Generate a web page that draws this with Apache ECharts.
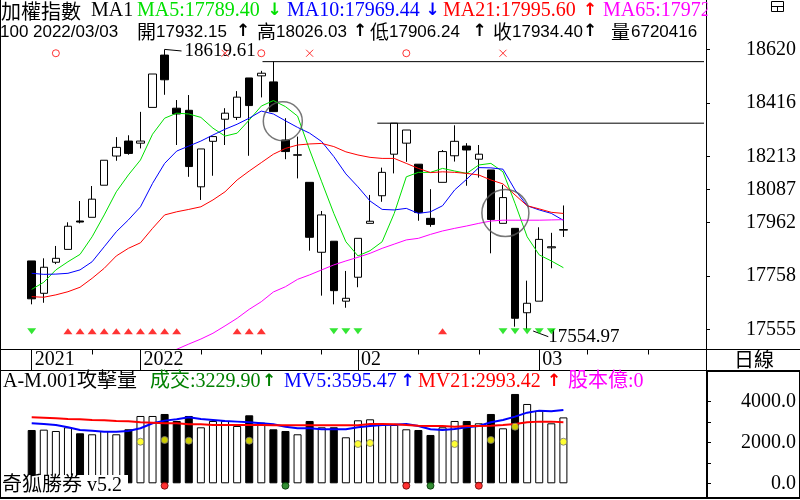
<!DOCTYPE html>
<html><head><meta charset="utf-8">
<script src="https://cdn.jsdelivr.net/npm/echarts@6/dist/echarts.min.js"></script>
<style>html,body{margin:0;padding:0;background:#fff}#c{width:800px;height:500px}</style>
</head><body><div id="c"></div>
<script>
// ---------- data ----------
const dates = ['2021/12/20','2021/12/21','2021/12/22','2021/12/23','2021/12/24','2021/12/27','2021/12/28','2021/12/29','2021/12/30',
'2022/01/03','2022/01/04','2022/01/05','2022/01/06','2022/01/07','2022/01/10','2022/01/11','2022/01/12','2022/01/13','2022/01/14',
'2022/01/17','2022/01/18','2022/01/19','2022/01/20','2022/01/21','2022/01/24','2022/01/25','2022/01/26',
'2022/02/07','2022/02/08','2022/02/09','2022/02/10','2022/02/11','2022/02/14','2022/02/15','2022/02/16','2022/02/17','2022/02/18',
'2022/02/21','2022/02/22','2022/02/23','2022/02/24','2022/02/25','2022/03/01','2022/03/02','2022/03/03'];
const futureDates = ['2022/03/04','2022/03/07','2022/03/08','2022/03/09','2022/03/10','2022/03/11','2022/03/14','2022/03/15','2022/03/16','2022/03/17','2022/03/18'];
const opens  = [17815,17692,17810,17859,17967,17981,18103,18214,18271,18263,18399,18598,18396,18388,18097,18270,18354,18361,18511,18519,18496,18275,18217,18114,17848,17890,17662,17753,17958,18063,18221,18263,18183,17977,18114,18215,18252,18202,18161,17958,17939,17618,17662,17865,17932.15];
const closes = [17671,17791,17825,17947,17963,18050,18198,18247,18224,18271,18526,18504,18374,18174,18241,18288,18377,18438,18406,18529,18383,18231,18219,17905,17990,17702,17673,17901,17966,18152,18339,18313,17999,17954,18231,18270,18237,18221,17973,18056,17597,17654,17897,17869,17934.40];
const lows   = [17650,17656,17803,17859,17958,17981,18103,18196,18219,18243,18399,18447,18256,18135,18047,18139,18256,18351,18215,18437,18383,18202,18129,17854,17683,17650,17637,17715,17958,18040,18148,18192,17968,17945,18114,18193,18101,18132,17844,17958,17565,17554.97,17662,17787,17906.24];
const highs  = [17815,17825,17872,17962,18043,18100,18198,18286,18293,18382,18526,18619.61,18427,18446,18241,18288,18396,18461,18511,18538,18573,18358,18288,18114,18005,17890,17777,17901,18066,18170,18339,18313,18183,18088,18237,18331,18263,18256,18161,18104,17939,17740,17943,17922,18026.03];
const ma5  = [17707,17734,17781,17812,17840,17907,17990,18078,18142,18199,18297,18358,18377,18374,18361,18320,18290,18301,18351,18404,18425,18402,18366,18237,18116,17996,17888,17834,17854,17888,17996,18135,18152,18152,18167,18157,18148,18180,18186,18154,18034,17907,17838,17815,17789.40];
const ma10 = [17768,17764,17765,17768,17781,17812,17869,17926,17971,18021,18110,18186,18233,18252,18271,18294,18316,18335,18358,18385,18374,18348,18323,18301,18269,18212,18146,18097,18043,18011,18009,18015,17996,18002,18025,18085,18126,18170,18169,18164,18085,18025,18009,17996,17969.44];
const ma21 = [17679,17677,17686,17698,17715,17749,17787,17834,17863,17884,17939,17990,18002,18011,18021,18047,18078,18123,18157,18189,18221,18243,18256,18260,18262,18250,18230,18218,18209,18205,18205,18186,18167,18151,18154,18152,18148,18142,18123,18108,18066,18025,18013,18000,17995.60];
const ma65 = ['-','-','-','-','-','-','-','-','-','-',17438,17461,17479,17499,17518,17540,17568,17597,17631,17660,17697,17717,17745,17762,17781,17800,17815,17829,17844,17863,17879,17895,17901,17916,17929,17939,17948,17958,17967,17970,17970,17970,17970,17971,17972];
const volumes = [2613,2630,2564,2745,2451,2402,2564,2402,2647,3300,3300,3398,3055,3300,2745,3055,3055,2810,3333,2973,2647,2564,2402,3055,2745,2745,2255,3088,3137,2859,2859,2647,2613,2369,2745,3055,3055,2941,3398,2696,4379,3888,3560,2941,3229.90];
const mv5  = [2941,2908,2858,2745,2613,2580,2531,2531,2564,2696,2941,3072,3137,3235,3153,3104,3055,3023,2990,2941,2892,2777,2696,2696,2647,2647,2647,2745,2810,2858,2875,2908,2810,2647,2613,2663,2745,2810,2990,3104,3268,3463,3562,3529,3595.47];
const mv21 = [3235,3219,3186,3153,3137,3104,3088,3055,3039,2990,2973,2941,2941,2892,2892,2858,2858,2858,2858,2858,2842,2842,2842,2842,2842,2842,2842,2842,2908,2908,2892,2858,2826,2810,2810,2777,2810,2810,2826,2858,2908,2990,3023,3023,2993.42];
const yellowDots = [[9,2039],[11,2123],[13,2088],[18,2088],[27,1926],[28,1976],[35,1926],[38,2123],[40,2775],[44,2039]];
const redDotIdx = [11,31,37];
const greenDotIdx = [21,33];
const dotBaseValue = -118;
const buyTriIdx = [3,4,5,6,7,8,9,10,11,12,17,18,19,34];
const sellTriIdx = [0,25,26,27,39,40,41,42,43];
const triValue = 17548;
const ringIdx = [2,19,31];
const crossIdx = [16,23,39];
const markTopValue = 18605;
const crossCircles = [[20.78,18346.5,39],[39.2,17997.4,47]];
const resistLines = [[19.1,18573],[28.6,18339]];
const yTicks = [17555,17758,17962,18087,18213,18416,18620];
const volTicks = [0,1000,2000,3000,4000];
const volLabels = [0,2000,4000];

// ---------- derived ----------
const axisDates = dates.concat(futureDates);
const N = axisDates.length;
function dayNum(s){return Math.round(Date.UTC(+s.slice(0,4), +s.slice(5,7)-1, +s.slice(8,10))/864e5);}
function weekKey(s){const d=new Date(dayNum(s)*864e5);return dayNum(s)-((d.getUTCDay()+6)%7);}
const weekTicks=[], labelMap={};
axisDates.forEach((s,i)=>{
  if(i===0||weekKey(s)!==weekKey(axisDates[i-1])) weekTicks.push(i);
  if(i===0){labelMap[i]=s.slice(0,4);}
  else if(s.slice(0,4)!==axisDates[i-1].slice(0,4)){labelMap[i]=s.slice(0,4);}
  else if(s.slice(5,7)!==axisDates[i-1].slice(5,7)){labelMap[i]=s.slice(5,7);}
});
const labelTicks = Object.keys(labelMap).map(Number);
const candleData = opens.map((o,i)=>[o,closes[i],lows[i],highs[i]]);
const up = i => closes[i] > opens[i];
const volData = volumes.map((v,i)=>({value:v,itemStyle:{color:up(i)?'#fff':'#000',borderColor:'#000',borderWidth:1}}));
const hiIdx = highs.indexOf(Math.max(...highs));
const loIdx = lows.indexOf(Math.min(...lows));
const maxV = Math.max(...highs), minV = Math.min(...lows);

const L = 25.66, W = 676.7, OFF = 3.64;
const SERIF = '"Liberation Serif","Noto Sans CJK TC",serif';
const SANS = '"Liberation Sans","Noto Sans CJK TC",sans-serif';
const CJK = '"Noto Sans CJK TC",sans-serif';
const ARROW = 'bold 17px "DejaVu Sans",sans-serif';
const R2 = '17px '+SANS;

function T(text,x,y,color,font,align){
  return {type:'text',x:x,y:y,z:100,style:{text:text,fill:color,font:font,
    textAlign:align||'left',textVerticalAlign:'middle',align:align||'left',verticalAlign:'middle'}};
}
function Ln(x1,y1,x2,y2,w){return {type:'line',z:90,shape:{x1,y1,x2,y2},style:{stroke:'#000',lineWidth:w||1}};}

const graphics = [
  // frame
  Ln(0.5,0,0.5,498), Ln(0,349.5,800,349.5), Ln(0,370.5,706,370.5), Ln(0,498,800,498,2),
  Ln(706.5,0,706.5,370.5),
  {type:'rect',z:90,shape:{x:707,y:371,width:93,height:127},style:{fill:'none',stroke:'#000',lineWidth:2}},
  // cover for clipped header
  {type:'rect',z:101,shape:{x:707.5,y:0,width:92.5,height:38},style:{fill:'#fff'}},
  // icon
  {type:'rect',z:102,shape:{x:771.5,y:1.5,width:12,height:10},style:{fill:'none',stroke:'#000',lineWidth:1}},
  {type:'line',z:102,shape:{x1:771.5,y1:6.5,x2:783.5,y2:6.5},style:{stroke:'#000'}},
  {type:'line',z:102,shape:{x1:777.5,y1:6.5,x2:777.5,y2:11.5},style:{stroke:'#000'}},
  // header row 1
  T('加權指數',1,11,'#000','20px '+CJK),
  T('MA1',91,11,'#000','20px '+SERIF),
  T('MA5:17789.40',137,11,'#00e000','20px '+SERIF),
  T('↓',274.5,11,'#00e000',ARROW,'center'),
  T('MA10:17969.44',287,11,'#0000ff','20px '+SERIF),
  T('↓',432.5,11,'#0000ff',ARROW,'center'),
  T('MA21:17995.60',443,11,'#ff0000','20px '+SERIF),
  T('↑',590,11,'#ff0000',ARROW,'center'),
  T('MA65:17972',603,11,'#ff00ff','20px '+SERIF),
  // header row 2
  T('100',0,32,'#000',R2),
  T('2022/03/03',33,32,'#000',R2),
  T('開',137,32,'#000','19px '+CJK),
  T('17932.15',156,32,'#000',R2),
  T('↑',243,32,'#000',ARROW,'center'),
  T('高',257,32,'#000','19px '+CJK),
  T('18026.03',276,32,'#000',R2),
  T('↑',360,32,'#000',ARROW,'center'),
  T('低',370,32,'#000','19px '+CJK),
  T('17906.24',389,32,'#000',R2),
  T('↑',479.5,32,'#000',ARROW,'center'),
  T('收',493,32,'#000','19px '+CJK),
  T('17934.40',512,32,'#000',R2),
  T('↑',590,32,'#000',ARROW,'center'),
  T('量',611,32,'#000','19px '+CJK),
  T('6720416',631,32,'#000',R2),
  // date row
  T('日線',754,359,'#000','20px '+CJK,'center'),
  // volume header
  T('A-M.001攻擊量',3,381.5,'#000','20px '+SERIF),
  T('成交:3229.90',150,381.5,'#008000','20px '+SERIF),
  T('↑',269,381.5,'#008000',ARROW,'center'),
  T('MV5:3595.47',284,381.5,'#0000ff','20px '+SERIF),
  T('↑',407.5,381.5,'#0000ff',ARROW,'center'),
  T('MV21:2993.42',418,381.5,'#ff0000','20px '+SERIF),
  T('↑',554,381.5,'#ff0000',ARROW,'center'),
  T('股本億:0',568,381.5,'#ff00ff','20px '+SERIF),
  // footer
  {type:'rect',z:99,shape:{x:1,y:475,width:127,height:22},style:{fill:'#fff'}},
  T('奇狐勝券 v5.2',2,486,'#000','20px '+SERIF)
];

const chart = echarts.init(document.getElementById('c'), null, {renderer:'canvas'});
chart.setOption({
  animation:false,
  backgroundColor:'#fff',
  grid:[
    {left:L,width:W,top:0,height:349.5},
    {left:L,width:W,top:370.5,height:127.5},
    {left:L,width:W,top:349.5,height:21}
  ],
  xAxis:[
    {type:'category',gridIndex:0,data:axisDates,show:false,axisLine:{onZero:false}},
    {type:'value',gridIndex:0,min:-0.5,max:N-0.5,show:false,axisLine:{onZero:false}},
    {type:'category',gridIndex:1,data:axisDates,show:false,axisLine:{onZero:false}},
    {type:'value',gridIndex:2,min:-0.5,max:N-0.5,position:'top',
      axisLine:{show:false,onZero:false},splitLine:{show:false},
      axisTick:{show:true,customValues:weekTicks,inside:true,length:5,lineStyle:{color:'#000',width:1}},
      axisLabel:{show:true,customValues:labelTicks,inside:true,margin:10,align:'left',verticalAlign:'middle',
        padding:[0,0,0,3],formatter:v=>labelMap[Math.round(v)]||'',color:'#000',fontSize:20,fontFamily:SERIF}},
    {type:'value',gridIndex:2,min:-0.5,max:N-0.5,position:'bottom',
      axisLine:{show:false,onZero:false},splitLine:{show:false},axisLabel:{show:false},
      axisTick:{show:true,customValues:labelTicks,inside:true,length:21,lineStyle:{color:'#000',width:1}}}
  ],
  yAxis:[
    {type:'value',gridIndex:0,min:17478.2,max:18807.5,position:'right',offset:OFF,
      axisLine:{show:false,onZero:false},splitLine:{show:false},
      axisTick:{show:true,customValues:yTicks,length:4,lineStyle:{color:'#000'}},
      axisLabel:{customValues:yTicks,margin:90,align:'right',color:'#000',fontSize:20,fontFamily:SERIF,
        padding:[0,0,4,0],formatter:v=>String(Math.round(v))}},
    {type:'value',gridIndex:1,min:-720.6,max:5529,position:'right',offset:OFF,
      axisLine:{show:false,onZero:false},splitLine:{show:false},
      axisTick:{show:true,customValues:volTicks,length:5,lineStyle:{color:'#000'}},
      axisLabel:{customValues:volLabels,margin:90,align:'right',color:'#000',fontSize:20,fontFamily:SERIF,formatter:v=>v.toFixed(1)}},
    {type:'value',gridIndex:2,show:false,axisLine:{onZero:false}}
  ],
  series:[
    {type:'candlestick',xAxisIndex:0,yAxisIndex:0,data:candleData,barWidth:8,
      itemStyle:{color:'#fff',color0:'#000',borderColor:'#000',borderColor0:'#000',borderColorDoji:'#000',borderWidth:1}},
    {type:'line',name:'MA5',xAxisIndex:0,yAxisIndex:0,data:ma5,symbol:'none',lineStyle:{color:'#00e000',width:1}},
    {type:'line',name:'MA10',xAxisIndex:0,yAxisIndex:0,data:ma10,symbol:'none',lineStyle:{color:'#0000ff',width:1}},
    {type:'line',name:'MA21',xAxisIndex:0,yAxisIndex:0,data:ma21,symbol:'none',lineStyle:{color:'#ff0000',width:1}},
    {type:'line',name:'MA65',xAxisIndex:0,yAxisIndex:0,data:ma65,symbol:'none',lineStyle:{color:'#ff00ff',width:1}},
    {type:'scatter',xAxisIndex:0,yAxisIndex:0,data:buyTriIdx.map(i=>[i,triValue]),symbol:'triangle',symbolSize:[9,6],
      itemStyle:{color:'#ff0000'},z:5},
    {type:'scatter',xAxisIndex:0,yAxisIndex:0,data:sellTriIdx.map(i=>[i,triValue]),symbol:'path://M0,0L10,0L5,6Z',symbolSize:[9,6],
      itemStyle:{color:'#00e000'},z:5},
    {type:'scatter',xAxisIndex:0,yAxisIndex:0,data:ringIdx.map(i=>[i,markTopValue]),symbol:'circle',symbolSize:7,
      itemStyle:{color:'rgba(0,0,0,0)',borderColor:'#ff0000',borderWidth:1},z:6},
    {type:'scatter',xAxisIndex:0,yAxisIndex:0,data:crossIdx.map(i=>[i,markTopValue]),symbol:'path://M0,0L10,10M10,0L0,10',symbolSize:7,
      itemStyle:{color:'rgba(0,0,0,0)',borderColor:'#ff0000',borderWidth:1},z:6},
    ...resistLines.map(r=>({type:'line',xAxisIndex:1,yAxisIndex:0,clip:false,symbol:'none',
      data:[[r[0],r[1]],[N-0.2,r[1]]],lineStyle:{color:'#000',width:1}})),
    {type:'scatter',xAxisIndex:1,yAxisIndex:0,data:crossCircles.map(c=>[c[0],c[1]]),
      symbol:'circle',symbolSize:(v,p)=>crossCircles[p.dataIndex][2],
      itemStyle:{color:'rgba(0,0,0,0)',borderColor:'#555',borderWidth:1.5},z:7},
    {type:'line',xAxisIndex:1,yAxisIndex:0,symbol:'none',clip:false,
      data:[[hiIdx,maxV],[hiIdx+0.15,maxV+6],[hiIdx+1.4,maxV-6]],lineStyle:{color:'#000',width:1},
      endLabel:{show:true,formatter:maxV.toFixed(2),color:'#000',fontSize:19,fontFamily:SERIF,distance:3}},
    {type:'line',xAxisIndex:1,yAxisIndex:0,symbol:'none',clip:false,
      data:[[loIdx+0.5,minV-6.5],[loIdx+1.75,minV-28]],lineStyle:{color:'#000',width:1},
      endLabel:{show:true,formatter:minV.toFixed(2),color:'#000',fontSize:19,fontFamily:SERIF,distance:0}},
    // volume panel
    {type:'bar',xAxisIndex:2,yAxisIndex:1,data:volData,barWidth:8},
    {type:'line',xAxisIndex:2,yAxisIndex:1,data:mv5,symbol:'none',lineStyle:{color:'#0000ff',width:2}},
    {type:'line',xAxisIndex:2,yAxisIndex:1,data:mv21,symbol:'none',lineStyle:{color:'#ff0000',width:2}},
    {type:'scatter',xAxisIndex:2,yAxisIndex:1,data:yellowDots,symbol:'circle',symbolSize:7,
      itemStyle:{color:'#ffff00',borderColor:'#777',borderWidth:1},z:8},
    {type:'scatter',xAxisIndex:2,yAxisIndex:1,data:redDotIdx.map(i=>[i,dotBaseValue]),symbol:'circle',symbolSize:7,
      itemStyle:{color:'#ff0000',borderColor:'#600',borderWidth:1},z:8},
    {type:'scatter',xAxisIndex:2,yAxisIndex:1,data:greenDotIdx.map(i=>[i,dotBaseValue]),symbol:'circle',symbolSize:7,
      itemStyle:{color:'#007000',borderColor:'#003000',borderWidth:1},z:8}
  ],
  graphic:graphics
});
</script></body></html>
